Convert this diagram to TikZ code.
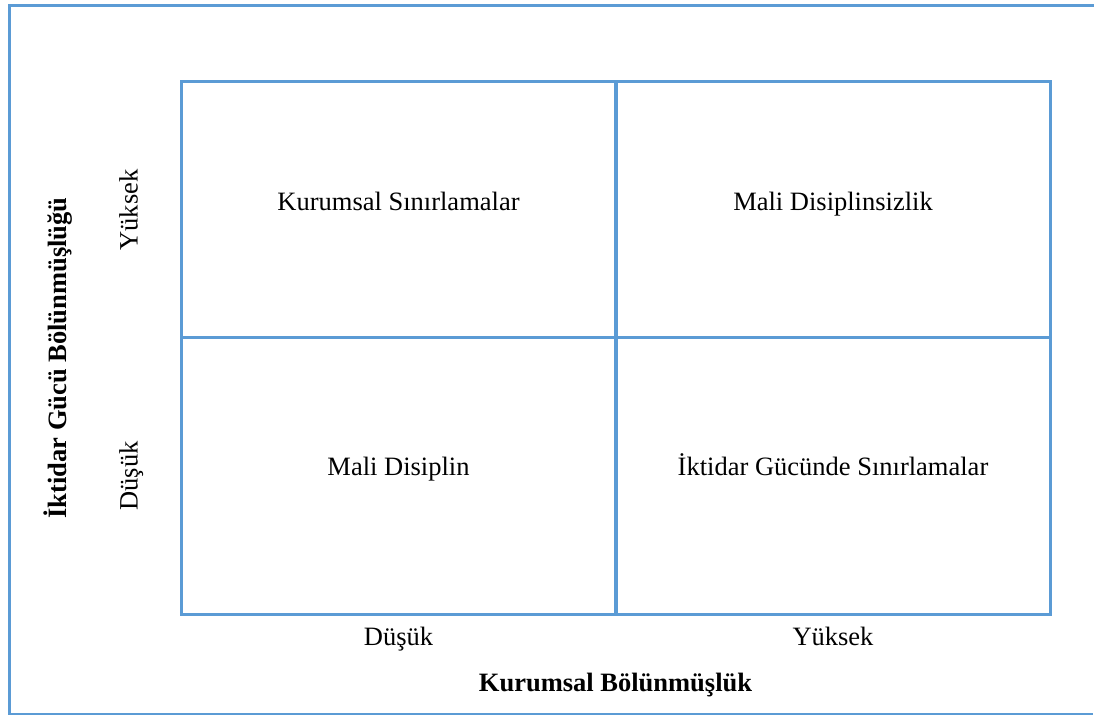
\documentclass[tikz,border=0pt]{standalone}
\usepackage{fontspec}
\setmainfont{Liberation Serif}
\definecolor{frameblue}{HTML}{5B9BD5}
\begin{document}
\begin{tikzpicture}[x=1pt,y=1pt,
  gridline/.style={draw=frameblue,line width=3pt},
  cell/.style={gridline,minimum width=434pt,minimum height=256.5pt,inner sep=0pt},
  lbl/.style={font=\fontsize{26.5}{30}\selectfont,inner sep=0pt,anchor=base},
  blbl/.style={lbl,font=\fontsize{26.5}{30}\selectfont\bfseries}]
\useasboundingbox (0,0) rectangle (1094,715);
% outer frame (open on the right)
\draw[frameblue,line width=3pt] (1094,709) -- (9.5,709) -- (9.5,0);
\draw[frameblue,line width=1.5pt] (8,1) -- (1093,1);
% cells
\node[cell,minimum height=256.5pt] (c11) at (398.5,505.25) {};
\node[cell,minimum height=256.5pt] (c12) at (833,505.25) {};
\node[cell,minimum height=276.5pt] (c21) at (398.5,238.75) {};
\node[cell,minimum height=276.5pt] (c22) at (833,238.75) {};
% cell texts
\node[lbl] (t11) at (398.5,504.5) {Kurumsal Sınırlamalar};
\node[lbl] (t12) at (833,504.5) {Mali Disiplinsizlik};
\node[lbl] (t21) at (398.5,239) {Mali Disiplin};
\node[lbl] (t22) at (833,239.5) {İktidar Gücünde Sınırlamalar};
% x axis
\node[lbl] (xlo) at (398.5,70) {Düşük};
\node[lbl] (xhi) at (833,70) {Yüksek};
\node[blbl] (xt) at (615.5,24) {Kurumsal Bölünmüşlük};
% y axis
\node[lbl,rotate=90] (yhi) at (137.5,505) {Yüksek};
\node[lbl,rotate=90] (ylo) at (137.5,239) {Düşük};
\node[blbl,rotate=90] (yt) at (66,357) {İktidar Gücü Bölünmüşlüğü};
\end{tikzpicture}
\end{document}
